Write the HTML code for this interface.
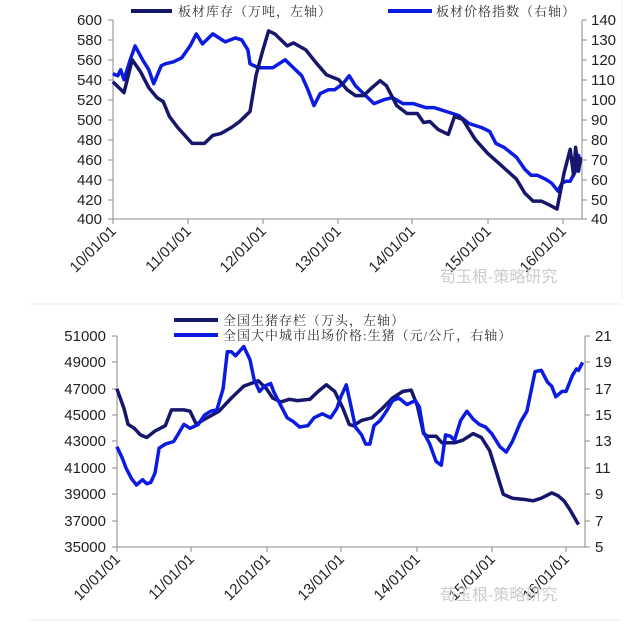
<!DOCTYPE html>
<html><head><meta charset="utf-8"><style>
html,body{margin:0;padding:0;background:#fff;}
svg{display:block;font-family:"Liberation Sans","Noto Sans CJK SC",sans-serif;}
.t{font-size:15px;fill:#222;}
.cn{font-family:"Liberation Serif","Noto Serif CJK SC",serif;font-size:13px;fill:#333;letter-spacing:1px;}
</style></head><body>
<svg id="s" width="640" height="634" viewBox="0 0 640 634" xmlns="http://www.w3.org/2000/svg">
<rect width="640" height="634" fill="#fff"/>
<line x1="30" y1="304" x2="622" y2="304" stroke="#eee"/>
<line x1="30" y1="620" x2="622" y2="620" stroke="#eee"/>
<line x1="622" y1="0" x2="622" y2="300" stroke="#f0f0f0"/>
<!-- chart 1 axes -->
<g stroke="#888" stroke-width="1" fill="none">
<path d="M113,20V219H582V20"/>
<path d="M108,20h5M108,40h5M108,60h5M108,80h5M108,100h5M108,120h5M108,140h5M108,160h5M108,180h5M108,200h5M108,219h5"/>
<path d="M582,20h5M582,40h5M582,60h5M582,80h5M582,100h5M582,120h5M582,140h5M582,160h5M582,180h5M582,200h5M582,219h5"/>
<path d="M113,219v5M188,219v5M263,219v5M338,219v5M412,219v5M488,219v5M563,219v5"/>
</g>
<g class="t" text-anchor="end">
<text x="102" y="25">600</text><text x="102" y="45">580</text><text x="102" y="65">560</text><text x="102" y="85">540</text><text x="102" y="105">520</text><text x="102" y="125">500</text><text x="102" y="145">480</text><text x="102" y="165">460</text><text x="102" y="185">440</text><text x="102" y="205">420</text><text x="102" y="224">400</text>
</g>
<g class="t">
<text x="591" y="25">140</text><text x="591" y="45">130</text><text x="591" y="65">120</text><text x="591" y="85">110</text><text x="591" y="105">100</text><text x="591" y="125">90</text><text x="591" y="145">80</text><text x="591" y="165">70</text><text x="591" y="185">60</text><text x="591" y="205">50</text><text x="591" y="224">40</text>
</g>
<g class="t" text-anchor="end">
<text transform="translate(117,232) rotate(-45)">10/01/01</text>
<text transform="translate(192,232) rotate(-45)">11/01/01</text>
<text transform="translate(267,232) rotate(-45)">12/01/01</text>
<text transform="translate(342,232) rotate(-45)">13/01/01</text>
<text transform="translate(416,232) rotate(-45)">14/01/01</text>
<text transform="translate(492,232) rotate(-45)">15/01/01</text>
<text transform="translate(567,232) rotate(-45)">16/01/01</text>
</g>
<line x1="131" y1="11" x2="172" y2="11" stroke="#16166b" stroke-width="4"/>
<text class="cn" x="178" y="16">板材库存（万吨，左轴）</text>
<line x1="388" y1="11" x2="432" y2="11" stroke="#0b1be0" stroke-width="4"/>
<text class="cn" x="436" y="16">板材价格指数（右轴）</text>
<text x="440" y="282" font-size="16" fill="#ccc">荀玉根-策略研究</text>

<!-- chart 2 axes -->
<g stroke="#888" stroke-width="1" fill="none">
<path d="M117,336V547H585V336"/>
<path d="M112,336h5M112,362h5M112,389h5M112,415h5M112,441h5M112,468h5M112,494h5M112,521h5M112,547h5"/>
<path d="M585,336h5M585,362h5M585,389h5M585,415h5M585,441h5M585,468h5M585,494h5M585,521h5M585,547h5"/>
<path d="M117,547v5M191,547v5M267,547v5M341,547v5M417,547v5M492,547v5M566,547v5"/>
</g>
<g class="t" text-anchor="end">
<text x="106" y="341">51000</text><text x="106" y="367">49000</text><text x="106" y="394">47000</text><text x="106" y="420">45000</text><text x="106" y="446">43000</text><text x="106" y="473">41000</text><text x="106" y="499">39000</text><text x="106" y="526">37000</text><text x="106" y="552">35000</text>
</g>
<g class="t">
<text x="595" y="341">21</text><text x="595" y="367">19</text><text x="595" y="394">17</text><text x="595" y="420">15</text><text x="595" y="446">13</text><text x="595" y="473">11</text><text x="595" y="499">9</text><text x="595" y="526">7</text><text x="595" y="552">5</text>
</g>
<g class="t" text-anchor="end">
<text transform="translate(121,560) rotate(-45)">10/01/01</text>
<text transform="translate(195,560) rotate(-45)">11/01/01</text>
<text transform="translate(271,560) rotate(-45)">12/01/01</text>
<text transform="translate(345,560) rotate(-45)">13/01/01</text>
<text transform="translate(421,560) rotate(-45)">14/01/01</text>
<text transform="translate(496,560) rotate(-45)">15/01/01</text>
<text transform="translate(570,560) rotate(-45)">16/01/01</text>
</g>
<line x1="174" y1="320" x2="218" y2="320" stroke="#16166b" stroke-width="4"/>
<text class="cn" x="223" y="325">全国生猪存栏（万头，左轴）</text>
<line x1="174" y1="335" x2="218" y2="335" stroke="#0b1be0" stroke-width="4"/>
<text class="cn" x="223" y="340">全国大中城市出场价格:生猪（元/公斤，右轴）</text>
<text x="440" y="600" font-size="16" fill="#ccc">荀玉根-策略研究</text>
<g id="lines"></g>
</svg>
<script>
var K=2.42;
function poly(d,fx,fy,col){var p=[];for(var i=0;i<d.length;i+=2)p.push((d[i]/K).toFixed(1)+','+fy(d[i+1]).toFixed(1));
var e=document.createElementNS('http://www.w3.org/2000/svg','polyline');e.setAttribute('points',p.join(' '));e.setAttribute('fill','none');e.setAttribute('stroke',col);e.setAttribute('stroke-width','3.5');e.setAttribute('stroke-linejoin','round');document.getElementById('lines').appendChild(e);}
var y1=function(v){return 20+(600-v)*0.995;};
var y1r=function(v){return y1(400+(v-40)*2);};
var y2=function(v){return 336+(51-v)*211/16;};
var y2r=function(v){return 336+(21-v)*211/16;};
poly([273,113,285,112,292,115,300,110,315,120,327,127,345,120,360,115,372,108,390,117,400,118,420,119,440,121,460,127,475,133,490,128,515,133,545,129,570,131,585,130,600,125,605,118,625,116,640,116,660,116,690,120,710,116,730,112,745,105,760,97,775,103,795,105,810,105,830,108,845,112,860,107,880,103,905,98,930,100,950,101,975,98,1000,98,1030,96,1050,96,1080,94,1110,92,1135,88,1165,86,1185,84,1200,78,1220,76,1250,71,1270,65,1285,62,1300,62,1320,60,1335,58,1350,54,1360,58,1370,59,1380,59,1395,65,1400,72,1405,68],0,y1r,'#0b1be0');
poly([273,538,300,527,320,560,340,548,360,532,380,522,395,518,410,503,430,492,465,476,495,476,515,484,535,486,560,492,580,498,605,508,620,545,635,568,650,589,665,586,695,574,710,577,740,570,765,557,790,545,820,540,840,530,860,524,880,524,900,532,920,539,935,534,960,514,985,506,1010,506,1025,497,1040,498,1060,490,1085,485,1100,503,1120,500,1150,480,1180,466,1210,455,1250,440,1270,426,1290,418,1310,418,1330,414,1348,410,1365,446,1380,470,1388,444,1393,472,1400,448,1405,462],0,y1,'#16166b');
poly([283,47,300,45.5,310,44.3,325,44,340,43.5,355,43.3,375,43.8,400,44.2,415,45.4,445,45.4,460,45.3,475,44.3,490,44.6,530,45.3,560,46.3,590,47.2,625,47.6,645,47,660,46.3,680,46,700,46.2,720,46.1,750,46.2,770,46.8,790,47.3,810,46.8,830,45.5,845,44.3,855,44.2,875,44.6,900,44.8,925,45.5,950,46.3,975,46.8,995,46.9,1010,45.7,1025,43.6,1035,43.4,1055,43.4,1070,42.9,1100,42.9,1120,43.1,1145,43.6,1165,43.3,1185,42.3,1200,40.8,1218,39,1240,38.7,1270,38.6,1290,38.5,1310,38.7,1335,39.1,1350,38.9,1365,38.5,1380,37.8,1400,36.7],0,y2,'#16166b');
poly([283,12.6,295,11.8,305,11,318,10.2,330,9.7,345,10.1,355,9.8,365,9.9,375,10.6,385,12.5,400,12.8,420,13,430,13.5,445,14.3,460,14,480,14.3,495,15,510,15.3,525,15.4,540,17,550,19.8,560,19.8,570,19.5,590,20.2,605,19.2,615,17.7,628,16.8,640,17.2,655,17.4,662,16.8,675,16,695,14.8,710,14.5,725,14.1,745,14.2,760,14.8,780,15.1,800,14.8,815,15.5,825,16.4,838,17.3,850,15.6,860,14.1,875,13.5,885,12.8,895,12.8,905,14.2,920,14.6,935,15.3,950,16.1,965,16.3,985,15.8,1005,16.1,1015,15.6,1025,13.7,1040,12.8,1055,11.5,1068,11.2,1078,13.5,1090,13.4,1100,13.1,1115,14.6,1130,15.3,1145,14.7,1160,14.3,1175,14.1,1190,13.6,1210,12.6,1225,12.2,1240,13,1260,14.5,1275,15.3,1285,16.8,1295,18.3,1310,18.4,1325,17.5,1335,17.2,1345,16.4,1360,16.8,1370,16.8,1385,18,1395,18.5,1400,18.4,1410,19],0,y2r,'#0b1be0');
</script>
</body></html>
